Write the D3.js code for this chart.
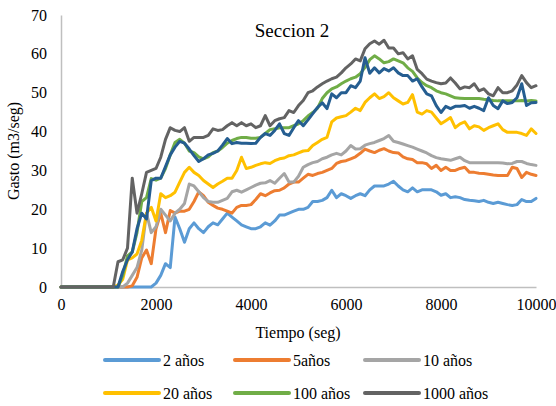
<!DOCTYPE html>
<html>
<head>
<meta charset="utf-8">
<script src="https://cdn.jsdelivr.net/npm/d3@7"></script>
<style>
  html, body { margin: 0; padding: 0; background: #fff; }
  svg { display: block; }
  text { font-family: "Liberation Serif", "Times New Roman", serif; fill: #000; }
</style>
</head>
<body>
<div id="chart"></div>
<script>
// ---------------- DATA ----------------
const time = [0,100,200,300,400,500,600,700,800,900,
  1000,1100,1200,1300,1400,1500,1600,1700,1800,1900,
  2000,2100,2200,2300,2400,2500,2600,2700,2800,2900,
  3000,3100,3200,3300,3400,3500,3600,3700,3800,3900,
  4000,4100,4200,4300,4400,4500,4600,4700,4800,4900,
  5000,5100,5200,5300,5400,5500,5600,5700,5800,5900,
  6000,6100,6200,6300,6400,6500,6600,6700,6800,6900,
  7000,7100,7200,7300,7400,7500,7600,7700,7800,7900,
  8000,8100,8200,8300,8400,8500,8600,8700,8800,8900,
  9000,9100,9200,9300,9400,9500,9600,9700,9800,9900,
  10000];

const q2 = [0,0,0,0,0,0,0,0,0,0,
  0,0,0,0,0,0,0,0,0,0,
  1,3,6,5,18,15,11.5,15,16.5,15,
  14,15.5,16.5,16,17.5,19,18,17,16,15.5,
  15,15,15.5,16.5,15.9,17,18.5,18.5,19,19.5,
  20,20,20.5,22,22,22.3,23,24.9,23,24,
  23.5,22.8,23.5,24,23.5,25,26,26,26,26.5,
  27.2,26,25,24.5,25.5,24.5,25,25,25,24.5,
  23.6,24,23,23.2,23,22.5,22.3,22.2,22,22.3,
  21.8,21.5,21.8,21.5,21.2,21,21.2,22.5,22,22,
  22.8];

const q5 = [0,0,0,0,0,0,0,0,0,0,
  0,0,0,0,0,0.3,2.5,7.5,9.5,6,
  15,19,14,19.7,19,19.5,19.5,20,22,24.5,
  23.5,21.8,21,20.3,20,19.5,19,20.5,21,21,
  21.2,22.5,24,23.5,24.2,24.8,24.9,25.5,26.5,27,
  27,28,29,28.7,29.2,29.5,30,30.5,31.8,32.3,
  32.5,33,33.5,34.4,35.5,35,34.6,35.2,35.6,35,
  34.6,34.5,33.5,33,32.8,32,32,31.7,30.5,31.3,
  30,30.8,30,30,30.5,30.8,29.5,29.5,29.3,29.2,
  29,28.8,28.7,28.7,28.7,30.8,30.5,28.2,29.5,29,
  28.7];

const q10 = [0,0,0,0,0,0,0,0,0,0,
  0,0,0,0,1,3,5,9.5,19,14,
  15.5,20,18.5,17,19,20,21.5,26.5,26,24.5,
  23,22,21.8,21.8,22.3,22.8,24.5,24.9,24.4,25,
  25.6,26.2,26.7,26.8,27.4,26.7,28,29.2,27,27,
  28.5,30.8,31.5,32,32.3,33,33.4,34,34.4,34,
  35,36.4,35.5,35.6,36.5,36.9,37.2,37.7,38.2,39,
  37.5,37.2,36.8,36.4,36,35.5,35,34.5,33.8,33.3,
  33,32.8,32.6,33,33.4,32.5,32,32,32,32,
  32,32,32,31.9,31.7,31.8,32.3,32.3,31.8,31.5,
  31.3];

const q20 = [0,0,0,0,0,0,0,0,0,0,
  0,0,0.5,2,7,7.5,8.5,12,19,20.5,
  17,24,23,23.5,24.4,27,29.5,30.8,29.5,28.7,
  27.4,26.5,25.6,26.5,27.2,28,28,30,33.4,30.5,
  30.8,31.3,31.7,32,31.8,32.5,33,33.2,33.8,34,
  34.5,35,35.1,36.4,37.2,38,38.5,42.5,43.5,43.8,
  44.1,45,46,45.4,47.5,48.7,49.7,48.5,49,50,
  48.7,47.9,47.1,47.5,49.5,45,44.5,45.4,45,43.5,
  42,42.8,43.6,41,42,42.5,40.7,41.5,41.2,40.3,
  41,41.5,42,40.5,39.8,39.8,39.8,39.5,39,40.7,
  39.5];

const q100 = [0,0,0,0,0,0,0,0,0,0,
  0,0,0,3,8,9,14,22,23,27.9,
  27.5,28,30.5,34,37.2,38,37,35,34.6,33.5,
  33,33.5,34.6,35,35.9,37,37.7,38.2,38.5,38.5,
  38.3,38.3,38.5,39.5,40.5,40.7,41,41,41,41.5,
  42,42.8,44,44.9,46,48.5,50,51,51.5,52.3,
  53,53.6,54,54.9,56.5,58.5,59.5,58.7,57.7,58,
  58.7,58.2,57.7,56.4,55.5,53.8,52.6,51.8,51.3,50.5,
  50,49.7,49.2,48.7,48.6,48.5,48.5,48.5,48.5,48.3,
  48.2,48,47.9,47.9,47.9,47.9,47.9,48,47.9,48,
  47.9];

const q500 = [0,0,0,0,0,0,0,0,0,0,
  0,0,0,4,7,9,15,19,17.5,27.4,
  28,28,31,34,36,37.5,37,35.5,33.8,32.3,
  33,34,34.4,35,36.5,38.2,36.9,37.2,37,37,
  36.9,37,38.5,39.5,39,40.3,42,39.5,39,41,
  42.8,41.5,43,44.6,46.2,47.4,45.9,49.7,48.7,50,
  50,51.8,51.3,53,59,55,56.4,55.1,56.2,55.6,
  56.4,55.1,54.4,54.4,53,53.6,51.5,49.7,49.2,46.7,
  44.9,46.5,45.9,46.5,46.5,46.7,46,46.5,46,45.4,
  48.7,46.7,45.9,47.9,47.2,47.5,48.7,52.3,46.7,47.4,
  47.5];

const q1000 = [0,0,0,0,0,0,0,0,0,0,
  0,0,6.5,7,10,28,19,24,29.5,30,
  30.5,33.4,38,41,40.3,40,41,37.5,38.5,38.5,
  38.5,39,40.7,40.3,40.5,41.5,42.3,41.5,42.3,41.5,
  42,41,41.5,44.1,41.5,42.8,43.3,43.6,45.4,44.9,
  46.7,48,50,50.5,51.5,52.3,53,53.6,54,55.1,
  56.4,57.4,58.7,58.2,61.3,62.6,63.3,62.5,63.5,61.5,
  61.5,60,60.3,58.7,59.5,56,54.9,53.5,53,52.6,
  52.3,52.5,53.8,52.5,51,51.5,51.3,52.3,50.5,51,
  49.7,49.2,51.3,50,50,50.5,52,54.4,52.6,51.3,
  51.8];

const seriesNames  = ["2 años", "5años", "10 años", "20 años", "100 años", "", "1000 años"];
const seriesValues = [q2, q5, q10, q20, q100, q500, q1000];
const seriesColors = ["#5B9BD5", "#ED7D31", "#A5A5A5", "#FFC000", "#70AD47", "#255E91", "#636363"];
const legendOrder  = [0, 1, 2, 3, 4, 6];

const xTicks = [0, 2000, 4000, 6000, 8000, 10000];
const yTicks = [0, 10, 20, 30, 40, 50, 60, 70];

const chartTitle = "Seccion 2";
const xTitle = "Tiempo (seg)";
const yTitle = "Gasto (m3/seg)";

// ---------------- CHART ----------------
const W = 556, H = 406;
const svg = d3.select("#chart").append("svg").attr("width", W).attr("height", H);

const x = d3.scaleLinear().domain([0, 10000]).range([61, 536]);
const y = d3.scaleLinear().domain([0, 70]).range([287, 15]);

// axes
const gx = svg.append("g").attr("transform", `translate(0,${y(0)})`)
  .call(d3.axisBottom(x).tickValues(xTicks).tickFormat(d3.format("d")).tickSize(0).tickSizeOuter(0).tickPadding(12));
const gy = svg.append("g").attr("transform", `translate(${x(0)},0)`)
  .call(d3.axisLeft(y).tickValues(yTicks).tickSize(0).tickSizeOuter(0).tickPadding(14));
[gx, gy].forEach(g => {
  g.select(".domain").attr("stroke", "#BFBFBF").attr("stroke-width", 1.5);
  g.selectAll("text").attr("font-size", 16).attr("font-family", '"Liberation Serif", "Times New Roman", serif').attr("fill", "#000");
});

// lines
const line = d3.line().x((d, i) => x(time[i])).y(d => y(d));
svg.append("g").selectAll("path")
  .data(seriesValues)
  .join("path")
  .attr("d", d => line(d))
  .attr("fill", "none")
  .attr("stroke", (d, i) => seriesColors[i])
  .attr("stroke-width", 3)
  .attr("stroke-linejoin", "round")
  .attr("stroke-linecap", "round");

// title
svg.append("text").attr("x", 292).attr("y", 37).attr("text-anchor", "middle")
  .attr("font-size", 19).text(chartTitle);

// axis titles
svg.append("text").attr("x", 298).attr("y", 338).attr("text-anchor", "middle")
  .attr("font-size", 16).text(xTitle);
svg.append("text").attr("transform", `translate(19,${(y(0) + y(70)) / 2}) rotate(-90)`)
  .attr("text-anchor", "middle").attr("font-size", 16).text(yTitle);

// legend
const legCols = [105, 235, 365];
const legRows = [360, 393];
const leg = svg.append("g").selectAll("g")
  .data(legendOrder)
  .join("g")
  .attr("transform", (d, k) => `translate(${legCols[k % 3]},${legRows[Math.floor(k / 3)]})`);
leg.append("line").attr("x1", 0).attr("x2", 54).attr("y1", 0).attr("y2", 0)
  .attr("stroke", d => seriesColors[d]).attr("stroke-width", 4).attr("stroke-linecap", "round");
leg.append("text").attr("x", 58).attr("y", 0).attr("dy", "0.35em")
  .attr("font-size", 16).text(d => seriesNames[d]);
</script>
</body>
</html>
